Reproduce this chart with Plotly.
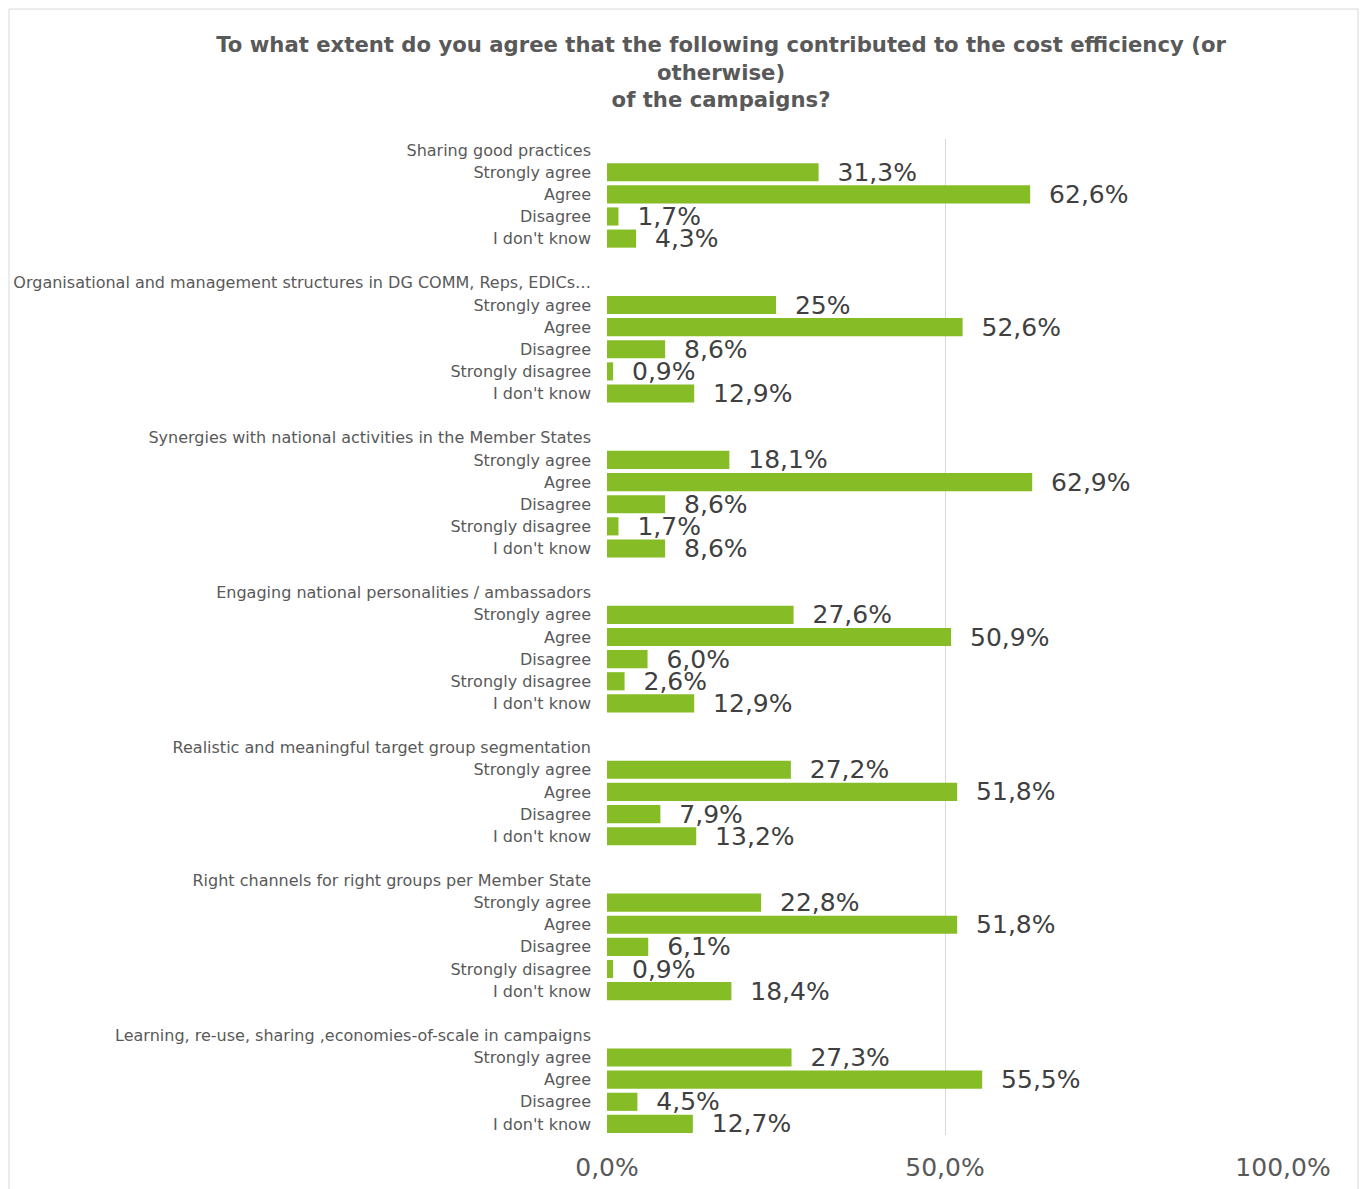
import plotly.graph_objects as go

groups = [
    "Sharing good practices",
    "Organisational and management structures in DG COMM, Reps, EDICs…",
    "Synergies with national activities in the Member States",
    "Engaging national personalities / ambassadors",
    "Realistic and meaningful target group segmentation",
    "Right channels for right groups per Member State",
    "Learning, re-use, sharing ,economies-of-scale in campaigns",
]
responses = [
    ["Strongly agree", "Agree", "Disagree", "I don't know"],
    ["Strongly agree", "Agree", "Disagree", "Strongly disagree", "I don't know"],
    ["Strongly agree", "Agree", "Disagree", "Strongly disagree", "I don't know"],
    ["Strongly agree", "Agree", "Disagree", "Strongly disagree", "I don't know"],
    ["Strongly agree", "Agree", "Disagree", "I don't know"],
    ["Strongly agree", "Agree", "Disagree", "Strongly disagree", "I don't know"],
    ["Strongly agree", "Agree", "Disagree", "I don't know"],
]
values = [
    [31.3, 62.6, 1.7, 4.3],
    [25.0, 52.6, 8.6, 0.9, 12.9],
    [18.1, 62.9, 8.6, 1.7, 8.6],
    [27.6, 50.9, 6.0, 2.6, 12.9],
    [27.2, 51.8, 7.9, 13.2],
    [22.8, 51.8, 6.1, 0.9, 18.4],
    [27.3, 55.5, 4.5, 12.7],
]
value_labels = [
    ["31,3%", "62,6%", "1,7%", "4,3%"],
    ["25%", "52,6%", "8,6%", "0,9%", "12,9%"],
    ["18,1%", "62,9%", "8,6%", "1,7%", "8,6%"],
    ["27,6%", "50,9%", "6,0%", "2,6%", "12,9%"],
    ["27,2%", "51,8%", "7,9%", "13,2%"],
    ["22,8%", "51,8%", "6,1%", "0,9%", "18,4%"],
    ["27,3%", "55,5%", "4,5%", "12,7%"],
]
x_ticks = [0, 50, 100]
x_tick_labels = ["0,0%", "50,0%", "100,0%"]

title_text = ("To what extent do you agree that the following contributed to the cost efficiency (or"
              "<br>otherwise)<br>of the campaigns?")

# Build row list (group header rows, response rows, blank separator rows)
row_ids, row_text, row_x, row_lbl = [], [], [], []
for gi, g in enumerate(groups):
    row_ids.append(f"g{gi}")
    row_text.append(g)
    row_x.append(None)
    row_lbl.append("")
    for ri, r in enumerate(responses[gi]):
        row_ids.append(f"g{gi}_r{ri}")
        row_text.append(r)
        row_x.append(values[gi][ri])
        row_lbl.append("\u00a0\u00a0" + value_labels[gi][ri])
    if gi < len(groups) - 1:
        row_ids.append(f"gap{gi}")
        row_text.append("")
        row_x.append(None)
        row_lbl.append("")

fig = go.Figure(go.Bar(
    x=row_x, y=row_ids, orientation="h",
    marker=dict(color="#86BC25", line=dict(width=0)),
    text=row_lbl, textposition="outside", constraintext="none",
    textfont=dict(family="DejaVu Sans", size=25, color="#404040"),
    cliponaxis=False, hoverinfo="skip",
))

fig.update_layout(
    width=1351, height=1181,
    margin=dict(l=599, r=76, t=131, b=54, autoexpand=False),
    paper_bgcolor="white", plot_bgcolor="white",
    bargap=0.18,
    showlegend=False,
    font=dict(family="DejaVu Sans", color="#595959"),
    title=dict(text=title_text, x=0.5278, xref="container", xanchor="center",
               y=0.9625, yref="container", yanchor="top", automargin=False,
               font=dict(family="DejaVu Sans", size=21.2, color="#595959", weight="bold")),
    xaxis=dict(range=[0, 100], tickvals=x_ticks, ticktext=x_tick_labels,
               showgrid=True, gridcolor="#D9D9D9", gridwidth=1,
               zeroline=False, showline=False, automargin=False,
               tickfont=dict(size=25, color="#595959"), ticks="",
               ticklabelstandoff=15, fixedrange=True),
    yaxis=dict(type="category", categoryorder="array", categoryarray=row_ids,
               autorange="reversed", tickmode="array", tickvals=row_ids, ticktext=row_text,
               tickfont=dict(size=16, color="#595959"), ticks="",
               showgrid=False, showline=False, zeroline=False, automargin=False,
               ticklabelstandoff=15, fixedrange=True),
    shapes=[dict(type="rect", xref="paper", yref="paper",
                 x0=-0.8846, x1=1.111, y0=-0.07, y1=1.1305,
                 line=dict(color="#D9D9D9", width=1), fillcolor="rgba(0,0,0,0)", layer="below")],
)

fig.write_html("out.html")
